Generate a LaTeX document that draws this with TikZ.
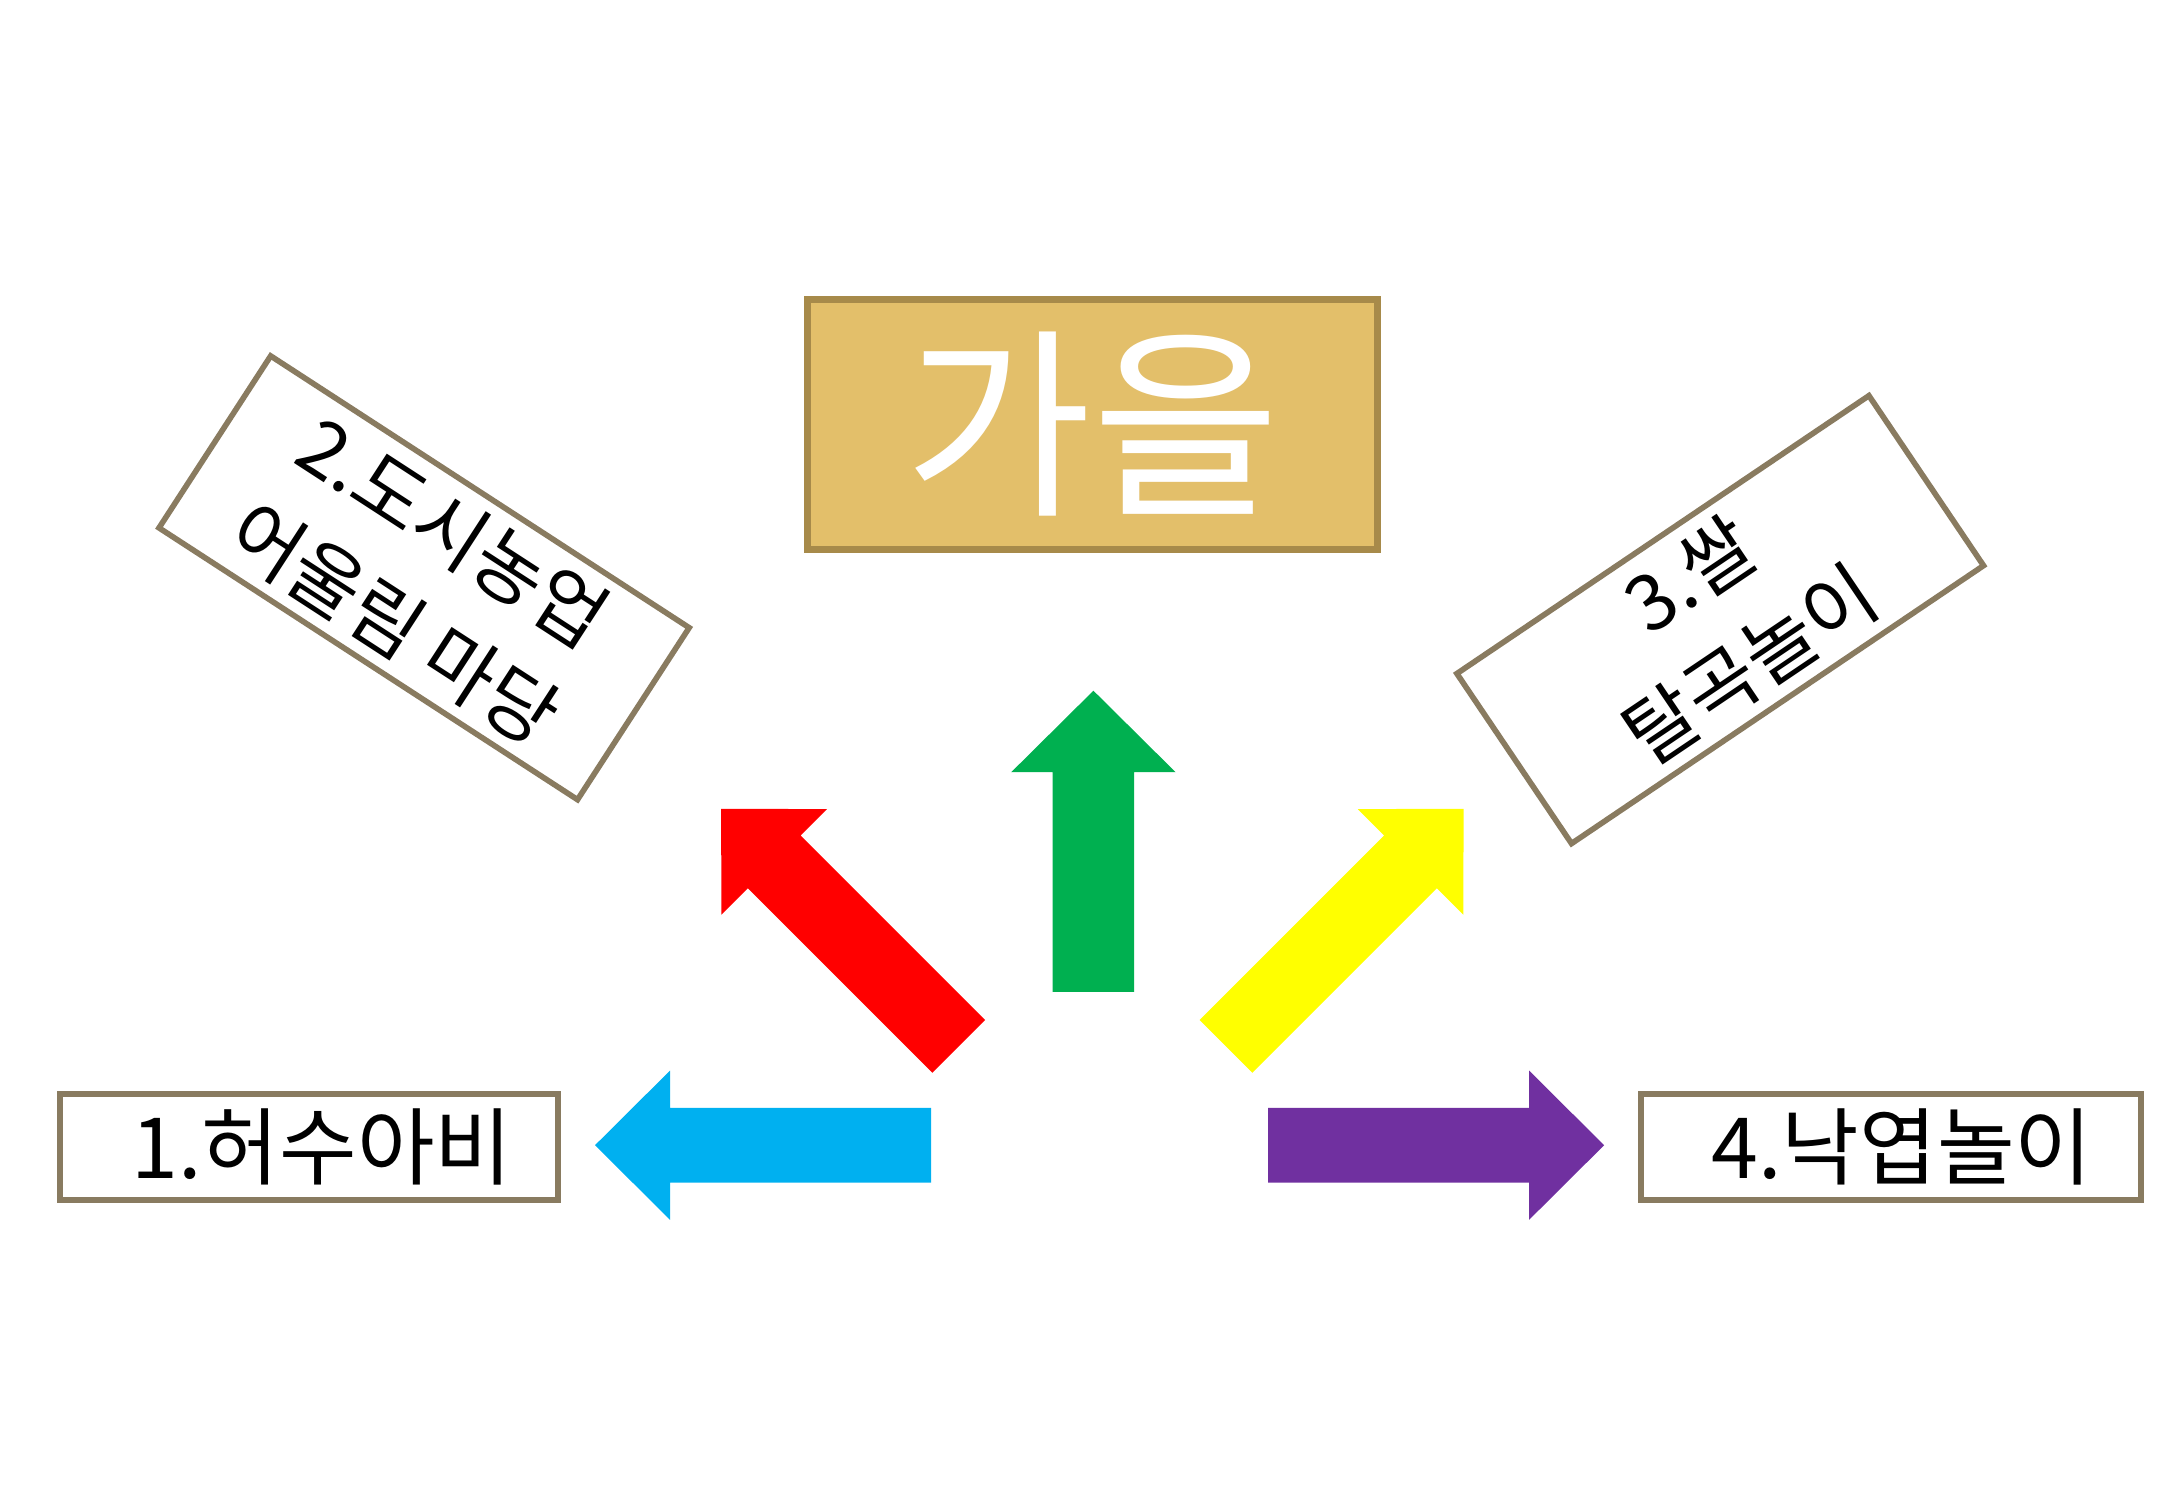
\documentclass[tikz,border=0pt]{standalone}
\usepackage{fontspec}
\setmainfont{Noto Sans CJK KR}

\definecolor{boxline}{RGB}{137,123,96}
\definecolor{goldfill}{RGB}{227,191,106}
\definecolor{goldline}{RGB}{167,138,74}
\definecolor{arrred}{RGB}{255,0,0}
\definecolor{arrgreen}{RGB}{0,176,80}
\definecolor{arryellow}{RGB}{255,255,0}
\definecolor{arrblue}{RGB}{0,176,240}
\definecolor{arrpurple}{RGB}{112,48,160}

\tikzset{
  itembox/.style={draw=boxline, line width=1.6pt, fill=white, inner sep=0pt,
    align=center, font=\fontsize{24}{30}\selectfont},
  tiltbox/.style={itembox, minimum height=2.05cm,
    font=\fontsize{22}{31}\selectfont},
  titlebox/.style={draw=goldline, line width=2pt, fill=goldfill, text=white,
    inner sep=0pt, minimum width=5.70cm, minimum height=2.50cm,
    font=\fontsize{58}{62}\selectfont},
}

% block arrow : colour, angle, tail centre
\newcommand{\blockarrow}[3]{%
  \begin{scope}[shift={#3},rotate=#2]
    \fill[#1] (0,-0.373) -- (2.61,-0.373) -- (2.61,-0.746) -- (3.36,0)
      -- (2.61,0.746) -- (2.61,0.373) -- (0,0.373) -- cycle;
  \end{scope}}

\begin{document}
\begin{tikzpicture}
    \useasboundingbox (0,0) rectangle (21.66,15);
    % ---- title ----
    \node[titlebox] (autumn) at (10.925,10.755) {가을};
    % ---- four items ----
    \node[itembox, minimum width=4.98cm, minimum height=1.06cm] (scarecrow) at (3.09,3.53) {\hspace*{0.26cm}1.허수아비};
    \node[tiltbox, minimum width=4.99cm, rotate=-33] (farming) at (4.241,9.222) {2.도시농업\\어울림 마당};
    \node[tiltbox, minimum width=4.97cm, rotate=34] (threshing) at (17.202,8.804) {3.쌀\\탈곡놀이};
    \node[itembox, minimum width=5.00cm, minimum height=1.06cm] (leaves) at (18.91,3.53) {\hspace*{0.22cm}4.낙엽놀이};
    % ---- arrows ----
    \blockarrow{arrblue}{180}{(9.31,3.548)}
    \blockarrow{arrpurple}{0}{(12.681,3.548)}
    \blockarrow{arrred}{135}{(9.587,4.536)}
    \blockarrow{arryellow}{45}{(12.26,4.536)}
    \fill[arrgreen] (10.526,5.082) -- (10.526,7.278) -- (10.112,7.278) -- (10.934,8.093)
      -- (11.756,7.278) -- (11.341,7.278) -- (11.341,5.082) -- cycle;
\end{tikzpicture}
\end{document}
